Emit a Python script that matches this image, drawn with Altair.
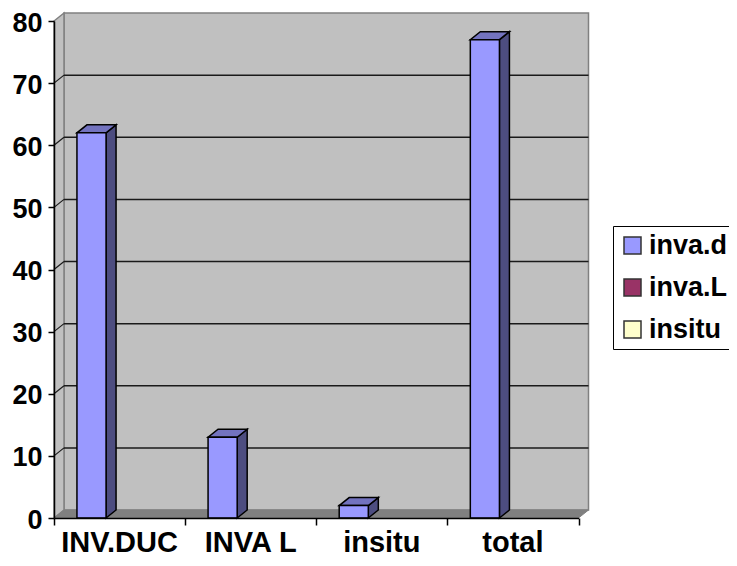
import altair as alt
import pandas as pd

categories = ["INV.DUC", "INVA L", "insitu", "total"]
inva_d = [62, 13, 2, 77]
series_names = ["inva.d", "inva.L", "insitu"]
series_colors = ["#9999FF", "#993366", "#FFFFCC"]
y_ticks = [0, 10, 20, 30, 40, 50, 60, 70, 80]
grid_values = [10, 20, 30, 40, 50, 60, 70]

FONT = "Liberation Sans"
W, H = 524.5, 497
YMAX = 80
NCAT = len(categories)
# 3-D depth of the Excel-like box, in data units
DX = 10 / (W / NCAT)
DY = 8 / (H / YMAX)
BAR_START, BAR_W = 0.175, 0.222

xs = alt.Scale(domain=[0, NCAT], nice=False, zero=False)
ys = alt.Scale(domain=[0, YMAX], nice=False, zero=False)

x_axis = alt.Axis(
    values=list(range(NCAT + 1)), labels=False, title=None, grid=False, tickSize=7, tickWidth=1.5,
    tickColor="#000000", domainColor="#000000", domainWidth=1.5, zindex=1,
)
y_axis = alt.Axis(
    values=y_ticks, title=None, grid=False, tickSize=6, tickWidth=1.5, tickColor="#000000",
    domainColor="#000000", domainWidth=1.5, labelFont=FONT, labelFontSize=27, labelFontWeight="bold",
    labelColor="#000000", labelPadding=6, labelOffset=2, zindex=1,
)
X = alt.X("x:Q", scale=xs, axis=x_axis)
Y = alt.Y("y:Q", scale=ys, axis=y_axis, stack=None)


def area_layer(rows, fill, stroke, sw=1.0):
    df = pd.DataFrame(rows, columns=["g", "o", "x", "y", "y2"])
    return alt.Chart(df).mark_area(
        fill=fill, stroke=stroke, strokeWidth=sw, interpolate="linear", orient="vertical", opacity=1
    ).encode(x=X, y=Y, y2="y2:Q", detail="g:N")


back_wall = area_layer([[0, 0, DX, DY, YMAX + DY], [0, 1, NCAT + DX, DY, YMAX + DY]], "#C0C0C0", "#808080", 1.5)
side_wall = area_layer([[0, 0, 0, 0, YMAX], [0, 1, DX, DY, YMAX + DY]], "#C0C0C0", "#808080", 1.5)
floor = area_layer(
    [[0, 0, 0, 0, 0], [0, 1, DX, 0, DY], [0, 2, NCAT, 0, DY], [0, 3, NCAT + DX, DY, DY]],
    "#808080", "#808080", 1,
)

grid_back = alt.Chart(pd.DataFrame({"v": grid_values})).transform_calculate(
    y=f"datum.v + {DY}", x=f"{DX}", x1=f"{NCAT + DX}"
).mark_rule(color="#1a1a1a", strokeWidth=1.5).encode(x=X, x2="x1:Q", y=Y)
grid_side_rows = []
for i, v in enumerate(grid_values):
    grid_side_rows += [{"g": i, "x": 0, "y": v}, {"g": i, "x": DX, "y": v + DY}]
grid_side = alt.Chart(pd.DataFrame(grid_side_rows)).mark_line(color="#1a1a1a", strokeWidth=1.2).encode(
    x=X, y=Y, detail="g:N"
)

top_rows, side_rows, front_rows = [], [], []
for i, v in enumerate(inva_d):
    x0 = i + BAR_START
    x1 = x0 + BAR_W
    top_rows += [[i, 0, x0, v, v], [i, 1, x0 + DX, v, v + DY], [i, 2, x1, v, v + DY], [i, 3, x1 + DX, v + DY, v + DY]]
    side_rows += [[i, 0, x1, 0, v], [i, 1, x1 + DX, DY, v + DY]]
    front_rows.append({"series": series_names[0], "x": x0, "x1": x1, "y": v})

tops = area_layer(top_rows, "#7373BF", "#000000", 1.5)
sides = area_layer(side_rows, "#4D4D80", "#000000", 1.5)

fronts = alt.Chart(pd.DataFrame(front_rows)).mark_bar(stroke="#000000", strokeWidth=1.5).encode(
    x=X,
    x2="x1:Q",
    y=Y,
    y2=alt.datum(0),
    color=alt.Color(
        "series:N",
        scale=alt.Scale(domain=series_names, range=series_colors),
        legend=alt.Legend(
            title=None, orient="none", legendX=559, legendY=205,
            symbolType="square", symbolSize=289, symbolStrokeColor="#333333", symbolStrokeWidth=1.5,
            symbolOffset=0,
            labelFont=FONT, labelFontSize=27, labelFontWeight="bold", labelColor="#000000",
            labelLimit=200, labelOffset=3, rowPadding=14,
            strokeColor="#000000", fillColor="#FFFFFF", padding=6, symbolOpacity=1,
            columnPadding=0,
        ),
    ),
)

cat_df = pd.DataFrame({"label": categories, "x": [i + 0.5 for i in range(NCAT)], "y": [0] * NCAT})
cat_labels = alt.Chart(cat_df).mark_text(
    font=FONT, fontSize=29, fontWeight="bold", color="#000000", dy=34, baseline="alphabetic", align="center"
).encode(x=X, y=Y, text="label:N")

chart = alt.layer(
    back_wall, side_wall, floor, grid_back, grid_side, sides, tops, fronts, cat_labels
).properties(
    width=W, height=H,
    autosize=alt.AutoSizeParams(type="none"),
    padding={"left": 46, "top": 13, "right": 150.5, "bottom": 40},
).configure_view(stroke=None)

chart.save("out.html", embed_options={"renderer": "svg", "actions": False})
